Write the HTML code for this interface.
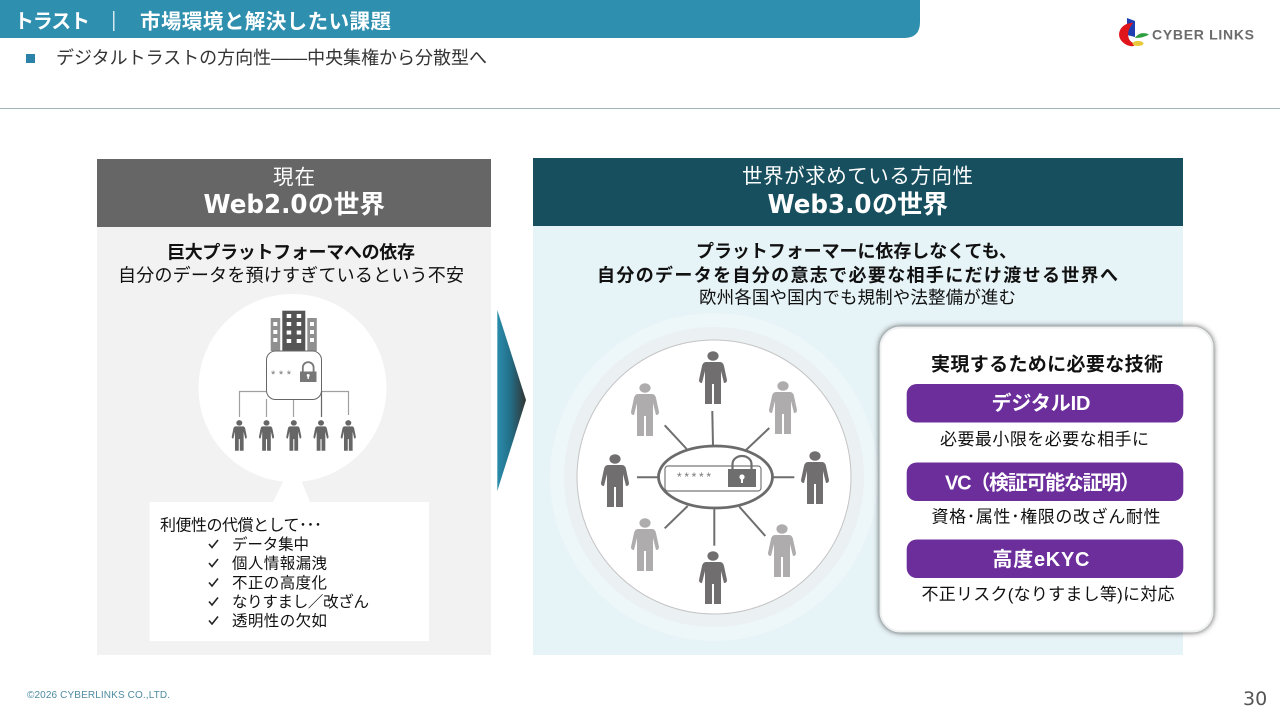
<!DOCTYPE html>
<html lang="ja"><head><meta charset="utf-8"><title>Web2.0とWeb3.0の世界</title>
<style>
html,body{margin:0;padding:0;background:#fff;width:1280px;height:720px;overflow:hidden}
svg{display:block}
text{font-family:"Liberation Sans","Noto Sans CJK JP",sans-serif;dominant-baseline:central;fill:#111;transform:translateY(1px)}
.b{font-weight:700}
.w{fill:#fff}
.dj{font-family:"DejaVu Sans",sans-serif}
</style></head><body>
<svg width="1280" height="720" viewBox="0 0 1280 720" xmlns="http://www.w3.org/2000/svg">
<defs>
<linearGradient id="arr" x1="0" x2="1" y1="0" y2="0"><stop offset="0" stop-color="#2a8cab"/><stop offset=".45" stop-color="#226f88"/><stop offset="1" stop-color="#333"/></linearGradient>
<filter id="sh" x="-10%" y="-10%" width="120%" height="120%"><feDropShadow dx="0" dy="0" stdDeviation="2.800" flood-color="#444" flood-opacity="1"/></filter>
<g id="p">
<ellipse cx="0" cy="5" rx="5.600" ry="4.700"/>
<path d="M-7,11H7Q10,11 11,15L14,29Q14,32 11,32L8,20V53H1V33H-1V53H-8V20L-11,32Q-14,32 -14,29L-11,15Q-10,11 -7,11Z"/>
</g>
</defs>

<path d="M0,0H920V22Q920,38 904,38H0Z" fill="#2f8fae"/>
<text class="b w" x="14" y="21" font-size="20" textLength="76">トラスト</text>
<rect x="113" y="11" width="1.500" height="20" fill="#d5e8ef"/>
<text class="b w" x="140" y="21" font-size="20.500" textLength="251">市場環境と解決したい課題</text>
<rect x="26" y="54" width="9" height="9" fill="#2a82a8"/>
<text x="56" y="57" font-size="18" textLength="431" style="fill:#333">デジタルトラストの方向性——中央集権から分散型へ</text>
<rect x="0" y="108" width="1280" height="1" fill="#a3b3ba"/>

<path d="M1127,18L1135,21V37L1127,35Z" fill="#1f3fb0"/>
<path d="M1131,24C1120,25 1115,38 1127,44C1130,45.500 1133,45.500 1134,44.500C1127,42 1124,33 1131,24Z" fill="#e0151b" stroke="#e0151b" stroke-width="2"/>
<path d="M1135,38C1138,33 1144,32 1149,34.500C1145,37 1140,38 1135,38Z" fill="#2e9e3e"/>
<ellipse cx="1138" cy="43.500" rx="5.500" ry="2.500" fill="#e8c93a"/>
<text class="b" x="1152" y="33.500" font-size="14" textLength="102" style="fill:#6b6b6b">CYBER LINKS</text>

<rect x="97" y="159" width="394" height="68" fill="#666"/>
<rect x="97" y="227" width="394" height="428" fill="#f2f2f2"/>
<text class="w" x="273" y="176.500" font-size="20.500" textLength="42">現在</text>
<text class="b w dj" x="203.500" y="204" font-size="26" textLength="104" lengthAdjust="spacingAndGlyphs">Web2.0</text>
<text class="b w" x="308" y="204" font-size="25.700" textLength="77">の世界</text>
<text class="b" x="167" y="251.500" font-size="18" textLength="248">巨大プラットフォーマへの依存</text>
<text x="118" y="274.500" font-size="18" textLength="346">自分のデータを預けすぎているという不安</text>

<circle cx="292.500" cy="388" r="94" fill="#fff"/>
<path d="M284,480L273,502H310L301,480Z" fill="#fff"/>
<rect x="270.700" y="318" width="9.500" height="33" fill="#909090"/>
<rect x="307.300" y="318" width="9.500" height="33" fill="#909090"/>
<rect x="282.300" y="310.700" width="23" height="40" fill="#555"/>
<g fill="#fff">
<rect x="286.700" y="314" width="4.500" height="4"/><rect x="296.700" y="314" width="4.500" height="4"/>
<rect x="286.700" y="322" width="4.500" height="4"/><rect x="296.700" y="322" width="4.500" height="4"/>
<rect x="286.700" y="330.500" width="4.500" height="4"/><rect x="296.700" y="330.500" width="4.500" height="4"/>
<rect x="286.700" y="339" width="4.500" height="4"/><rect x="296.700" y="339" width="4.500" height="4"/>
<rect x="273.300" y="322" width="4" height="4"/><rect x="273.300" y="330" width="4" height="4"/><rect x="273.300" y="338" width="4" height="4"/>
<rect x="310" y="322" width="4" height="4"/><rect x="310" y="330" width="4" height="4"/><rect x="310" y="338" width="4" height="4"/>
</g>
<g fill="none" stroke="#a0a0a0" stroke-width="1.200">
<path d="M266,391.500H239.500V417"/><path d="M266.500,399V417"/><path d="M293.500,399V417"/><path d="M321,391.500H348.500V415"/>
</g>
<path d="M321.500,391V417" stroke="#666" stroke-width="1.200" fill="none"/>
<rect x="266.500" y="351" width="55" height="48.500" rx="9" fill="#fff" stroke="#666" stroke-width="1"/>
<text x="271" y="374" font-size="11" textLength="20" style="fill:#777">***</text>
<rect x="300" y="371.500" width="16.500" height="10.500" fill="#777"/>
<path d="M302.800,371.500V367.500A5.400,5.400 0 0 1 313.600,367.500V371.500" fill="none" stroke="#777" stroke-width="1.800"/>
<circle cx="308.200" cy="375.500" r="1.500" fill="#fff"/><rect x="307.500" y="376" width="1.400" height="3" fill="#fff"/>
<g fill="#666">
<use href="#p" transform="translate(239.300,420) scale(.54,.58)"/>
<use href="#p" transform="translate(266.500,420) scale(.54,.58)"/>
<use href="#p" transform="translate(293.800,420) scale(.54,.58)"/>
<use href="#p" transform="translate(321,420) scale(.54,.58)"/>
<use href="#p" transform="translate(348.300,420) scale(.54,.58)"/>
</g>

<rect x="149.500" y="502" width="279.500" height="139" fill="#fff"/>
<text x="160" y="525" font-size="16" textLength="162">利便性の代償として･･･</text>
<g font-size="15.500">
<text x="232" y="544" textLength="77">データ集中</text>
<text x="232" y="563" textLength="95">個人情報漏洩</text>
<text x="232" y="582.500" textLength="95">不正の高度化</text>
<text x="232" y="601.500" textLength="137">なりすまし／改ざん</text>
<text x="232" y="620.500" textLength="95">透明性の欠如</text>
</g>
<g fill="none" stroke="#222" stroke-width="1.600">
<path d="M209,544L212,547.500L218,540"/><path d="M209,563L212,566.500L218,559"/><path d="M209,582.500L212,586L218,578.500"/><path d="M209,601.500L212,605L218,597.500"/><path d="M209,620.500L212,624L218,616.500"/>
</g>

<path d="M497.300,310L526,400L497.300,491Z" fill="url(#arr)"/>

<rect x="533" y="158" width="650" height="68" fill="#174f5f"/>
<rect x="533" y="226" width="650" height="429" fill="#e6f3f7"/>
<text class="w" x="742" y="175.500" font-size="20.500" textLength="231">世界が求めている方向性</text>
<text class="b w dj" x="767.500" y="204" font-size="26" textLength="104" lengthAdjust="spacingAndGlyphs">Web3.0</text>
<text class="b w" x="872" y="204" font-size="25.700" textLength="76">の世界</text>
<text class="b" x="696" y="250.500" font-size="18" textLength="321">プラットフォーマーに依存しなくても、</text>
<text class="b" x="597" y="274.500" font-size="18" textLength="521">自分のデータを自分の意志で必要な相手にだけ渡せる世界へ</text>
<text x="699" y="296.500" font-size="17.500" textLength="317">欧州各国や国内でも規制や法整備が進む</text>

<circle cx="714" cy="477" r="164" fill="#edf6f9"/>
<circle cx="714" cy="477" r="150" fill="#ebf0f3"/>
<circle cx="714" cy="477" r="137" fill="#fff" stroke="#c4c4c4" stroke-width="1"/>
<g stroke="#6e6e6e" stroke-width="2" fill="none">
<path d="M712.300,411L713,446"/><path d="M664.700,425.300L686.700,449"/><path d="M769.300,428L746,450"/><path d="M773,477.300H794.300"/><path d="M637,477.300H657.700"/><path d="M664.700,528.300L687.700,506"/><path d="M714.300,509.300V545.700"/><path d="M739.300,506.700L765.300,536"/>
</g>
<ellipse cx="715.500" cy="477" rx="57" ry="31" fill="#fff" stroke="#6b6b6b" stroke-width="2.800"/>
<rect x="665" y="466" width="96" height="25" rx="3" fill="#fff" stroke="#777" stroke-width="1.200"/>
<text x="677" y="476" font-size="12" textLength="34" style="fill:#777">*****</text>
<rect x="728" y="469" width="28" height="18" fill="#6e6e6e"/>
<path d="M732.500,469V464A9.500,8 0 0 1 751.500,464V469" fill="none" stroke="#6e6e6e" stroke-width="2.200"/>
<circle cx="742" cy="477" r="2.600" fill="#fff"/><rect x="741" y="478" width="2" height="5" fill="#fff"/>
<g fill="#706e6e">
<use href="#p" x="713" y="351"/>
<use href="#p" x="815" y="451"/>
<use href="#p" x="615" y="454"/>
<use href="#p" x="713" y="551"/>
</g>
<g fill="#aeacac">
<use href="#p" x="645" y="383"/>
<use href="#p" x="783" y="381"/>
<use href="#p" x="645" y="518"/>
<use href="#p" x="782" y="524"/>
</g>

<rect x="880.500" y="327.500" width="332" height="304" rx="20" fill="#fff" stroke="#eef0f1" stroke-width="2" filter="url(#sh)"/>
<text class="b" x="931" y="364" font-size="19" textLength="232">実現するために必要な技術</text>
<rect x="906.700" y="384" width="276.600" height="38.500" rx="10" fill="#6b2e9b"/>
<rect x="906.700" y="462.500" width="276.600" height="38.500" rx="10" fill="#6b2e9b"/>
<rect x="906.700" y="539.500" width="276.600" height="38.500" rx="10" fill="#6b2e9b"/>
<text class="b w" x="991.500" y="403" font-size="20" textLength="99">デジタルID</text>
<text class="b w" x="945" y="482.500" font-size="20" textLength="195">VC（検証可能な証明）</text>
<text class="b w" x="992.500" y="559" font-size="20" textLength="97">高度eKYC</text>
<text x="940" y="438.500" font-size="17" textLength="209">必要最小限を必要な相手に</text>
<text x="931.500" y="516" font-size="17" textLength="229">資格･属性･権限の改ざん耐性</text>
<text x="921.500" y="593.500" font-size="17" textLength="253">不正リスク(なりすまし等)に対応</text>

<text x="27" y="694.500" font-size="10" textLength="143" style="fill:#4f8ba3">©2026 CYBERLINKS CO.,LTD.</text>
<text class="dj" x="1243" y="698" font-size="19" style="fill:#555">30</text>
</svg>
</body></html>
